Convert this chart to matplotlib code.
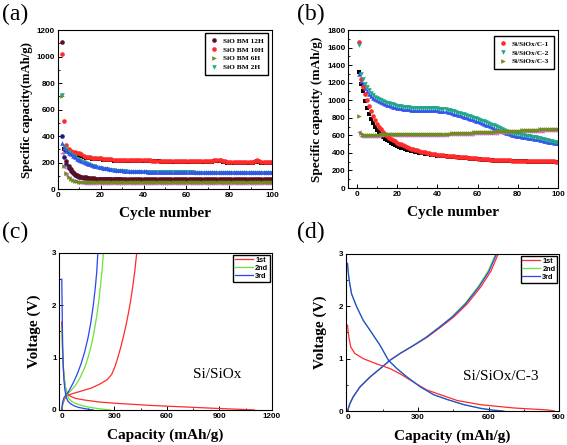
import matplotlib.pyplot as plt
import numpy as np

plt.rcParams['font.family'] = 'Liberation Serif'

# ---------------- (a) SiO ball milled, cycles 2..100 ----------------
cyc_a = np.arange(2, 101)
a_12h = [1110, 300, 215, 175, 150, 132, 118, 108, 100, 95, 91, 88, 86, 84, 82, 81, 80, 79, 78, 78,
         77, 77, 77, 76, 76, 76, 76, 76, 75, 75, 75, 75, 75, 75, 75, 75, 75, 75, 75, 75,
         75, 75, 75, 75, 75, 75, 74, 74, 74, 74, 74, 74, 74, 74, 74, 74, 74, 74, 74, 74,
         74, 74, 74, 74, 74, 74, 74, 74, 74, 74, 74, 74, 74, 74, 74, 74, 74, 74, 74, 74,
         74, 74, 74, 74, 74, 74, 74, 74, 74, 74, 74, 74, 74, 74, 74, 74, 74, 74, 74]
a_12h_c = [400, 240, 192, 158, 137, 120, 108, 100, 94, 90, 86, 84, 82, 80, 79, 78, 77, 76, 75, 75,
           74, 74, 74, 73, 73, 73, 73, 73, 72, 72, 72, 72, 72, 72, 72, 72, 72, 72, 72, 72,
           72, 72, 72, 72, 72, 72, 72, 72, 71, 71, 71, 71, 71, 71, 71, 71, 71, 71, 71, 71,
           71, 71, 71, 71, 71, 71, 71, 71, 71, 71, 71, 71, 71, 71, 71, 71, 71, 71, 71, 71,
           71, 71, 71, 71, 71, 71, 71, 71, 71, 71, 71, 71, 71, 71, 71, 71, 71, 71, 71]
a_10h = [1020, 515, 330, 300, 288, 282, 278, 276, 272, 262, 252, 246, 242, 240, 238, 236, 234, 233, 232, 230,
         228, 226, 225, 224, 223, 222, 221, 221, 220, 220, 220, 219, 219, 219, 218, 218, 218, 218, 218, 217,
         217, 217, 216, 216, 216, 216, 215, 215, 215, 215, 214, 214, 214, 214, 213, 213, 213, 213, 212, 212,
         212, 212, 212, 211, 211, 211, 211, 211, 210, 212, 215, 218, 220, 220, 217, 212, 210, 208, 207, 207,
         206, 206, 206, 206, 206, 205, 205, 205, 205, 206, 210, 222, 212, 208, 206, 205, 205, 204, 204]
cyc_a10c = np.arange(3, 101)
a_10h_c = [305, 290, 280, 275, 270, 268, 265, 260, 252, 244, 238, 234, 232, 230, 228, 227, 226, 225, 223, 221,
           219, 218, 217, 216, 215, 214, 214, 213, 213, 213, 212, 212, 212, 211, 211, 211, 211, 211, 210, 210,
           210, 209, 209, 209, 209, 208, 208, 208, 208, 207, 207, 207, 207, 206, 206, 206, 206, 205, 205, 205,
           205, 205, 204, 204, 204, 204, 204, 203, 205, 208, 211, 213, 213, 210, 205, 203, 201, 200, 200, 199,
           199, 199, 199, 199, 198, 198, 198, 198, 199, 203, 214, 205, 201, 199, 198, 198, 197, 197]
a_6h = [700, 175, 120, 92, 77, 68, 62, 59, 57, 56, 55, 54, 54, 53, 53, 53, 52, 52, 52, 52,
        52, 52, 52, 52, 52, 52, 52, 51, 51, 51, 51, 51, 51, 51, 51, 51, 51, 51, 51, 51,
        51, 51, 51, 51, 51, 51, 51, 51, 51, 51, 51, 51, 51, 51, 51, 51, 51, 51, 51, 51,
        51, 51, 51, 51, 51, 51, 51, 51, 51, 51, 51, 51, 51, 51, 51, 51, 51, 51, 51, 51,
        51, 51, 51, 51, 51, 51, 51, 51, 51, 51, 51, 51, 51, 51, 51, 51, 51, 51, 51]
a_6h_c = [272, 170, 110, 86, 72, 63, 58, 55, 53, 51, 50, 49, 49, 48, 48, 48, 47, 47, 47, 47,
          46, 46, 46, 46, 46, 46, 46, 46, 46, 46, 46, 46, 46, 46, 46, 46, 46, 46, 46, 46,
          46, 46, 46, 46, 46, 46, 46, 46, 46, 46, 46, 46, 46, 46, 46, 46, 46, 46, 46, 46,
          46, 46, 46, 46, 46, 46, 46, 46, 46, 46, 46, 46, 46, 46, 46, 46, 46, 46, 46, 46,
          46, 46, 46, 46, 46, 46, 46, 46, 46, 46, 46, 46, 46, 46, 46, 46, 46, 46, 46]
a_2h = [710, 320, 300, 282, 266, 252, 240, 229, 219, 210, 202, 195, 188, 182, 177, 172, 167, 163, 159, 155,
        152, 149, 146, 144, 142, 140, 138, 137, 136, 135, 134, 133, 132, 132, 131, 131, 130, 130, 130, 129,
        129, 129, 128, 128, 128, 128, 128, 127, 127, 127, 127, 127, 127, 126, 126, 126, 126, 126, 126, 126,
        126, 126, 125, 125, 125, 125, 125, 125, 125, 125, 125, 125, 125, 125, 125, 125, 125, 125, 125, 125,
        125, 125, 125, 125, 124, 124, 124, 124, 124, 124, 124, 124, 124, 124, 124, 124, 124, 124, 124]
a_2h_c = [345, 310, 290, 275, 262, 250, 240, 231, 222, 214, 206, 199, 193, 187, 182, 177, 173, 169, 165, 162,
          159, 156, 153, 150, 148, 146, 144, 142, 141, 140, 139, 138, 137, 136, 136, 135, 135, 134, 134, 134,
          133, 133, 133, 133, 132, 132, 132, 132, 132, 132, 131, 131, 131, 131, 131, 131, 131, 131, 131, 131,
          131, 131, 131, 131, 131, 131, 131, 131, 131, 131, 131, 131, 131, 131, 131, 131, 130, 130, 130, 130,
          130, 130, 130, 130, 130, 130, 130, 130, 130, 130, 130, 130, 130, 130, 130, 130, 130, 130, 130]

# ---------------- (b) Si/SiOx/C, cycles 1..100 ----------------
cyc_b = np.arange(1, 101)
b_c1 = [1660, 1240, 1150, 1070, 1000, 935, 875, 820, 775, 735, 700, 668, 640, 615, 595, 575, 558, 543, 530, 518,
        507, 496, 486, 476, 467, 458, 450, 442, 435, 428, 422, 416, 410, 405, 400, 396, 392, 388, 384, 381,
        378, 375, 372, 369, 366, 364, 362, 360, 358, 356, 354, 352, 350, 348, 346, 344, 342, 340, 338, 336,
        334, 332, 330, 328, 326, 324, 322, 320, 319, 318, 317, 316, 315, 315, 314, 314, 313, 313, 312, 312,
        311, 311, 310, 310, 309, 309, 308, 308, 307, 307, 306, 306, 305, 305, 304, 304, 303, 303, 302, 302]
b_c1_c = [1320, 1180, 1100, 990, 910, 840, 785, 738, 698, 664, 634, 607, 584, 564, 546, 530, 516, 503, 491, 480,
          470, 461, 453, 445, 438, 431, 425, 419, 413, 408, 403, 398, 394, 390, 386, 382, 379, 376, 373, 370,
          367, 364, 362, 360, 358, 356, 354, 352, 350, 348, 346, 344, 342, 340, 338, 336, 334, 332, 330, 328,
          326, 324, 322, 320, 318, 316, 314, 313, 312, 311, 310, 309, 308, 308, 307, 307, 306, 306, 305, 305,
          304, 304, 303, 303, 302, 302, 301, 301, 300, 300, 299, 299, 298, 298, 297, 297, 296, 296, 295, 295]
b_c2 = [1630, 1295, 1240, 1190, 1150, 1115, 1085, 1060, 1040, 1025, 1012, 1000, 990, 980, 972, 965, 958, 952, 946, 940,
        935, 931, 927, 924, 921, 919, 917, 915, 914, 913, 912, 912, 911, 911, 910, 910, 909, 909, 908, 907,
        905, 902, 899, 895, 890, 885, 879, 872, 865, 858, 850, 844, 838, 831, 824, 817, 810, 802, 794, 785,
        776, 767, 758, 749, 740, 731, 722, 713, 705, 697, 686, 674, 662, 651, 642, 635, 628, 622, 618, 614,
        610, 606, 602, 598, 594, 590, 586, 582, 578, 573, 568, 562, 556, 550, 544, 538, 532, 526, 520, 515]
b_c2_c = [1295, 1225, 1180, 1140, 1105, 1075, 1050, 1030, 1012, 998, 986, 975, 965, 956, 948, 941, 934, 928, 922, 917,
          912, 908, 904, 901, 898, 896, 894, 892, 891, 890, 889, 889, 888, 888, 887, 887, 886, 886, 885, 884,
          882, 879, 876, 872, 867, 862, 856, 849, 842, 835, 827, 820, 813, 806, 799, 791, 783, 775, 767, 758,
          749, 740, 731, 722, 713, 704, 695, 686, 677, 668, 658, 648, 639, 630, 622, 615, 609, 603, 598, 593,
          589, 585, 581, 577, 573, 569, 565, 561, 557, 553, 548, 543, 538, 533, 528, 523, 519, 515, 511, 508]
b_c3 = [815, 623, 605, 604, 606, 607, 608, 608, 609, 609, 609, 610, 610, 610, 610, 611, 611, 611, 611, 611,
        611, 612, 612, 612, 612, 612, 613, 613, 613, 613, 613, 614, 614, 614, 614, 615, 615, 615, 615, 615,
        616, 617, 618, 619, 620, 621, 622, 623, 624, 625, 626, 627, 628, 629, 630, 631, 632, 633, 634, 635,
        636, 637, 638, 639, 640, 641, 642, 643, 644, 645, 646, 647, 648, 649, 650, 650, 651, 652, 653, 654,
        655, 656, 657, 658, 659, 660, 661, 662, 664, 666, 668, 670, 671, 672, 673, 674, 675, 676, 677, 678]
b_c3_c = [642, 595, 592, 594, 595, 596, 597, 597, 598, 598, 598, 599, 599, 599, 600, 600, 600, 600, 601, 601,
          601, 601, 602, 602, 602, 602, 603, 603, 603, 603, 604, 604, 604, 604, 605, 605, 605, 605, 606, 606,
          606, 607, 608, 609, 610, 611, 612, 613, 614, 615, 616, 617, 618, 619, 620, 621, 621, 622, 622, 623,
          624, 625, 626, 627, 628, 629, 630, 631, 632, 633, 634, 635, 636, 637, 638, 639, 640, 641, 642, 643,
          644, 645, 646, 647, 648, 649, 650, 651, 652, 653, 654, 655, 656, 657, 658, 659, 660, 660, 661, 661]

# ---------------- (c) Si/SiOx voltage profiles ----------------
c1_dis_q = [0, 2, 4, 6, 9, 13, 18, 25, 35, 50, 80, 130, 220, 320, 420, 520, 620, 720, 820, 920, 1000, 1060, 1100]
c1_dis_v = [1.68, 1.45, 1.2, 1.0, 0.8, 0.62, 0.48, 0.38, 0.31, 0.26, 0.22, 0.19, 0.15, 0.125, 0.105, 0.085,
            0.07, 0.055, 0.04, 0.025, 0.015, 0.006, 0.0]
c1_chg_q = [0, 5, 15, 30, 50, 80, 120, 170, 220, 260, 285, 304, 320, 337, 352, 367, 380, 393, 405, 417, 428]
c1_chg_v = [0, 0.1, 0.2, 0.26, 0.3, 0.33, 0.37, 0.42, 0.5, 0.58, 0.68, 0.83, 1.0, 1.2, 1.4, 1.62, 1.84, 2.08,
            2.35, 2.65, 3.0]
c2_dis_q = [0, 3, 6, 10, 15, 22, 30, 40, 55, 75, 100, 130, 170, 210, 250, 275]
c2_dis_v = [1.55, 1.3, 1.05, 0.8, 0.6, 0.42, 0.3, 0.22, 0.17, 0.13, 0.1, 0.07, 0.045, 0.025, 0.01, 0.0]
c2_chg_q = [0, 5, 12, 22, 35, 55, 80, 105, 130, 150, 170, 185, 200, 212, 222, 231, 238]
c2_chg_v = [0, 0.12, 0.2, 0.26, 0.31, 0.38, 0.48, 0.62, 0.8, 1.0, 1.25, 1.5, 1.8, 2.1, 2.4, 2.7, 3.0]
c3_dis_q = [0, 2, 4, 6, 9, 13, 18, 25, 35, 50, 70, 95, 125, 155, 180]
c3_dis_v = [2.5, 2.0, 1.5, 1.1, 0.8, 0.55, 0.38, 0.25, 0.17, 0.12, 0.08, 0.05, 0.03, 0.012, 0.0]
c3_chg_q = [0, 5, 12, 22, 35, 50, 70, 90, 110, 130, 150, 165, 180, 192, 200, 206, 0]
c3_chg_v = [0, 0.15, 0.23, 0.28, 0.33, 0.42, 0.55, 0.7, 0.88, 1.1, 1.38, 1.65, 2.0, 2.35, 2.65, 3.0, 3.0]

# ---------------- (d) Si/SiOx/C-3 voltage profiles ----------------
d1_dis_q = [0, 3, 7, 14, 31, 67, 124, 181, 224, 281, 339, 396, 467, 567, 710, 853, 880]
d1_dis_v = [1.64, 1.5, 1.38, 1.22, 1.1, 1.0, 0.9, 0.81, 0.71, 0.55, 0.4, 0.31, 0.2, 0.12, 0.057, 0.02, 0.0]
d1_chg_q = [0, 10, 24, 53, 96, 139, 181, 224, 281, 339, 396, 453, 510, 567, 610, 641]
d1_chg_v = [0, 0.14, 0.27, 0.46, 0.65, 0.81, 0.97, 1.1, 1.25, 1.41, 1.6, 1.8, 2.05, 2.37, 2.67, 3.0]
d2_dis_q = [0, 3, 7, 17, 39, 67, 96, 139, 174, 210, 253, 310, 367, 424, 496, 567, 624, 670]
d2_dis_v = [2.8, 2.65, 2.5, 2.24, 1.99, 1.73, 1.54, 1.25, 0.97, 0.81, 0.65, 0.46, 0.31, 0.22, 0.12, 0.05, 0.015, 0.0]
d2_chg_q = [0, 10, 24, 53, 96, 139, 181, 224, 279, 334, 389, 444, 499, 555, 598, 630]
d2_chg_v = [0, 0.14, 0.27, 0.46, 0.65, 0.81, 0.97, 1.1, 1.25, 1.41, 1.6, 1.8, 2.05, 2.37, 2.67, 3.0]
d3_dis_q = [0, 3, 7, 17, 39, 67, 96, 139, 174, 210, 253, 310, 367, 424, 496, 567, 620, 660]
d3_dis_v = [2.82, 2.66, 2.5, 2.24, 1.99, 1.73, 1.54, 1.25, 0.97, 0.81, 0.65, 0.46, 0.31, 0.22, 0.12, 0.05, 0.015, 0.0]
d3_chg_q = [0, 10, 24, 53, 96, 139, 181, 224, 280, 336, 391, 447, 503, 559, 602, 634]
d3_chg_v = [0, 0.14, 0.27, 0.46, 0.65, 0.81, 0.97, 1.1, 1.25, 1.41, 1.6, 1.8, 2.05, 2.37, 2.67, 3.0]

RED = '#ff2a2a'
GREEN = '#66e633'
BLUE = '#2a45ee'

fig = plt.figure(figsize=(5.67, 4.45), dpi=100)


def style(ax, xt, yt, xminor, yminor):
    ax.set_xticks(xt)
    ax.set_yticks(yt)
    ax.set_xticks(xminor, minor=True)
    ax.set_yticks(yminor, minor=True)
    ax.tick_params(which='both', direction='in', top=False, right=False, labelsize=5.8, pad=2)
    ax.tick_params(which='major', length=3, width=0.7)
    ax.tick_params(which='minor', length=1.6, width=0.6)
    for lab in ax.get_xticklabels() + ax.get_yticklabels():
        lab.set_fontfamily('Liberation Sans')
        lab.set_fontweight('bold')
    for s in ax.spines.values():
        s.set_linewidth(0.8)


def pts(ax, x, y, m, c, label=None, ms=3.3):
    ax.plot(x, y, ls='none', marker=m, color=c, ms=ms, mew=0, label=label)


def marker_legend(ax, anchor):
    ax.legend(loc='upper right', prop={'family': 'Liberation Serif', 'weight': 'bold', 'size': 5.3},
              frameon=True, fancybox=False, edgecolor='black', framealpha=1, handlelength=1.2,
              handletextpad=0.6, borderpad=0.6, labelspacing=0.35, bbox_to_anchor=anchor, borderaxespad=0)


def line_legend(ax):
    ax.legend(loc='upper right', prop={'family': 'Liberation Sans', 'weight': 'bold', 'size': 5.3},
              frameon=True, fancybox=False, edgecolor='black', framealpha=1, handlelength=2.4,
              handletextpad=0.3, borderpad=0.25, labelspacing=0.12, borderaxespad=0.25)


# ---- (a)
ax = fig.add_axes([0.102, 0.575, 0.378, 0.357])
pts(ax, cyc_a10c, a_10h_c, 's', 'black', ms=2.8)
pts(ax, cyc_a, a_12h_c, 'o', '#1c1c80')
pts(ax, cyc_a, a_6h_c, '<', '#d070d0')
pts(ax, cyc_a, a_12h, 'o', '#5c0f1e', 'SiO BM 12H')
pts(ax, cyc_a, a_10h, 'o', RED, 'SiO BM 10H')
pts(ax, cyc_a, a_6h, '>', '#6f8c1c', 'SiO BM 6H')
pts(ax, cyc_a, a_2h, 'v', '#1fa58a', 'SiO BM 2H')
pts(ax, cyc_a, a_2h_c, '^', '#3355ee')
ax.set_xlim(0, 100)
ax.set_ylim(0, 1200)
style(ax, [0, 20, 40, 60, 80, 100], np.arange(0, 1201, 200), np.arange(0, 101, 10), np.arange(0, 1201, 100))
ax.set_xlabel('Cycle number', fontsize=11, fontweight='bold', labelpad=6)
ax.set_ylabel('Specific capacity(mAh/g)', fontsize=9.2, fontweight='bold', labelpad=3)
marker_legend(ax, (0.98, 0.98))
fig.text(0.003, 0.968, '(a)', fontsize=17, va='center')

# ---- (b)
ax = fig.add_axes([0.614, 0.5775, 0.370, 0.355])
pts(ax, cyc_b, b_c1_c, 's', 'black', ms=2.8)
pts(ax, cyc_b, b_c2_c, '^', '#3355ee')
pts(ax, cyc_b, b_c3_c, '<', '#d070d0')
pts(ax, cyc_b, b_c1, 'o', RED, 'Si/SiOx/C-1')
pts(ax, cyc_b, b_c2, 'v', '#1fa58a', 'Si/SiOx/C-2')
pts(ax, cyc_b, b_c3, '>', '#6f8c1c', 'Si/SiOx/C-3')
ax.set_xlim(-4.5, 100)
ax.set_ylim(0, 1800)
style(ax, [0, 20, 40, 60, 80, 100], np.arange(0, 1801, 200), np.arange(0, 101, 10), np.arange(0, 1801, 100))
ax.set_xlabel('Cycle number', fontsize=11, fontweight='bold', labelpad=6)
ax.set_ylabel('Specific capacity (mAh/g)', fontsize=9.5, fontweight='bold', labelpad=3)
marker_legend(ax, (0.98, 0.96))
fig.text(0.523, 0.968, '(b)', fontsize=17, va='center')

# ---- (c)
ax = fig.add_axes([0.1046, 0.0787, 0.375, 0.353])
ax.plot(c1_dis_q, c1_dis_v, color=RED, lw=0.9, label='1st')
ax.plot(c1_chg_q, c1_chg_v, color=RED, lw=0.9)
ax.plot(c2_dis_q, c2_dis_v, color=GREEN, lw=0.9, label='2nd')
ax.plot(c2_chg_q, c2_chg_v, color=GREEN, lw=0.9)
ax.plot(c3_dis_q, c3_dis_v, color=BLUE, lw=0.9, label='3rd')
ax.plot(c3_chg_q, c3_chg_v, color=BLUE, lw=0.9)
ax.set_xlim(-14, 1200)
ax.set_ylim(0, 3)
style(ax, [0, 300, 600, 900, 1200], [0, 1, 2, 3], np.arange(0, 1201, 150), np.arange(0, 3.01, 0.5))
ax.set_xlabel('Capacity (mAh/g)', fontsize=11, fontweight='bold', labelpad=6)
ax.set_ylabel('Voltage (V)', fontsize=11, fontweight='bold', labelpad=8)
ax.text(885, 0.67, 'Si/SiOx', fontsize=11, ha='center', va='center')
line_legend(ax)
fig.text(0.003, 0.478, '(c)', fontsize=17, va='center')

# ---- (d)
ax = fig.add_axes([0.610, 0.0764, 0.376, 0.353])
ax.plot(d1_dis_q, d1_dis_v, color=RED, lw=0.9, label='1st')
ax.plot(d1_chg_q, d1_chg_v, color=RED, lw=0.9)
ax.plot(d2_dis_q, d2_dis_v, color=GREEN, lw=0.9, label='2nd')
ax.plot(d2_chg_q, d2_chg_v, color=GREEN, lw=0.9)
ax.plot(d3_dis_q, d3_dis_v, color=BLUE, lw=0.9, label='3rd')
ax.plot(d3_chg_q, d3_chg_v, color=BLUE, lw=0.9)
ax.set_xlim(-7, 900)
ax.set_ylim(0, 3)
style(ax, [0, 300, 600, 900], [0, 1, 2, 3], np.arange(0, 901, 150), np.arange(0, 3.01, 0.5))
ax.set_xlabel('Capacity (mAh/g)', fontsize=11, fontweight='bold', labelpad=6)
ax.set_ylabel('Voltage (V)', fontsize=11, fontweight='bold', labelpad=8)
ax.text(653, 0.65, 'Si/SiOx/C-3', fontsize=11, ha='center', va='center')
line_legend(ax)
fig.text(0.523, 0.478, '(d)', fontsize=17, va='center')

fig.savefig('out.png', dpi=100)
